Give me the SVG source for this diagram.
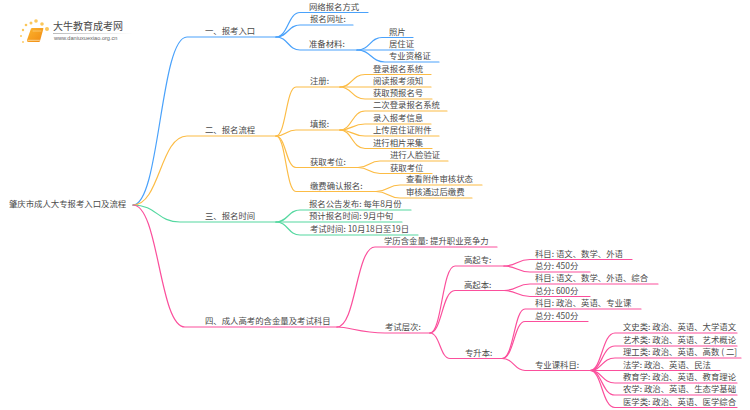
<svg xmlns="http://www.w3.org/2000/svg" width="750" height="410" viewBox="0 0 750 410">
<defs>
<linearGradient id="fade" x1="0" x2="1" y1="0" y2="0"><stop offset="0" stop-color="#bbb"/><stop offset="1" stop-color="#bbb" stop-opacity="0"/></linearGradient>
<linearGradient id="book" x1="0" x2="1" y1="0" y2="1"><stop offset="0" stop-color="#fdb52e"/><stop offset="1" stop-color="#f08a12"/></linearGradient>
</defs>
<style>
text{font-family:"Noto Sans CJK SC","Noto Sans",sans-serif;font-size:8.4px;fill:#4a4a4a;transform:translateY(-.7px)}
path{fill:none;stroke-width:1.2;stroke-linecap:round}
.b{stroke:#4aa2fb}.o{stroke:#fcbc45}.g{stroke:#55d8a0}.p{stroke:#fb4f9c}
</style>
<rect width="750" height="410" fill="#fff"/>
<g id="connectors">
<path class="b" d="M133 205C160 205 160 37 187 37H276"/>
<path class="o" d="M133 205C160 205 160 136 187 136H276"/>
<path class="g" d="M133 205C157 205 157 222 180 222H276"/>
<path class="p" d="M133 205C159 205 159 327 185 327H337"/>
<path class="b" d="M276 37C288 37 288 12.500 300 12.500H368"/>
<path class="b" d="M276 37C288 37 288 25 300 25H353"/>
<path class="b" d="M276 37C288 37 288 50 300 50H357"/>
<path class="b" d="M357 50C370 50 370 37.500 382 37.500H413"/>
<path class="b" d="M357 50H414"/>
<path class="b" d="M357 50C371 50 371 62 385 62H439"/>
<path class="o" d="M276 136C286 136 286 87 296 87H340"/>
<path class="o" d="M276 136C286 136 286 130 296 130H340"/>
<path class="o" d="M276 136C286 136 286 167.500 296 167.500H358"/>
<path class="o" d="M276 136C286 136 286 191.500 296 191.500H376"/>
<path class="o" d="M340 87C352 87 352 74.500 365 74.500H431"/>
<path class="o" d="M340 87H431"/>
<path class="o" d="M340 87C352 87 352 99 365 99H432"/>
<path class="o" d="M340 130C352 130 352 111 365 111H447"/>
<path class="o" d="M340 130C352 130 352 124 365 124H431"/>
<path class="o" d="M340 130C352 130 352 136 365 136H439"/>
<path class="o" d="M340 130C352 130 352 148.500 365 148.500H432"/>
<path class="o" d="M358 167.500C369 167.500 369 161 380 161H448"/>
<path class="o" d="M358 167.500C369 167.500 369 173.500 380 173.500H432"/>
<path class="o" d="M376 191.500C388 191.500 388 185 400 185H482"/>
<path class="o" d="M376 191.500C388 191.500 388 198 400 198H472"/>
<path class="g" d="M276 222C288 222 288 210 300 210H411"/>
<path class="g" d="M276 222H402"/>
<path class="g" d="M276 222C288 222 288 235 300 235H418"/>
<path class="p" d="M337 327C356 327 356 247 375 247H497"/>
<path class="p" d="M337 327C350 327 360 333 385 333H430"/>
<path class="p" d="M430 333C442 333 442 266 455 266H504"/>
<path class="p" d="M430 333C442 333 442 290.500 455 290.500H504"/>
<path class="p" d="M430 333C440 333 440 358.500 450 358.500H502"/>
<path class="p" d="M504 266C517 266 517 259.500 530 259.500H632"/>
<path class="p" d="M504 266C517 266 517 272 530 272H590"/>
<path class="p" d="M504 290.500C517 290.500 517 284 530 284H658"/>
<path class="p" d="M504 290.500C517 290.500 517 296.500 530 296.500H590"/>
<path class="p" d="M502 358.500C514 358.500 514 309 525 309H641"/>
<path class="p" d="M502 358.500C514 358.500 514 321.500 525 321.500H588"/>
<path class="p" d="M502 358.500C514 358.500 514 370.500 525 370.500H591"/>
<path class="p" d="M590 370.500C602 370.500 602 333 615 333H737"/>
<path class="p" d="M590 370.500C602 370.500 602 346 615 346H737"/>
<path class="p" d="M590 370.500C602 370.500 602 358 615 358H741"/>
<path class="p" d="M590 370.500H720"/>
<path class="p" d="M590 370.500C602 370.500 602 383 615 383H737"/>
<path class="p" d="M590 370.500C602 370.500 602 395 615 395H737"/>
<path class="p" d="M590 370.500C602 370.500 602 407.500 615 407.500H737"/>
</g>
<g id="logo">
<g fill="#fbc75a"><circle cx="36" cy="21" r="1.800"/><circle cx="31" cy="23" r="1.500"/><circle cx="26" cy="25" r="1.300"/><circle cx="23" cy="30" r="1.200"/><circle cx="21" cy="36" r="1"/><circle cx="23" cy="42" r=".9"/><circle cx="42" cy="24" r="1.800"/><circle cx="47" cy="29" r="2"/></g>
<path d="M31 28.500Q31.500 28 32 28H43Q43.500 28 43.300 29L40 41Q39.700 42 39 42H28.500Q26.500 42 27 40Z" style="fill:url(#book);stroke:none"/>
<path d="M28 40.300H39.500" style="stroke:#fbe3b4;stroke-width:.8"/>
<path d="M33 31H41" style="stroke:#fbd58a;stroke-width:.7"/>
<text x="53" y="31" style="font-size:10px">大牛教育成考网</text>
<rect x="53" y="33" width="80" height="1" fill="url(#fade)"/>
<text x="54" y="41" style="font-size:5.600px;fill:#666;font-family:'Liberation Sans',sans-serif">www.daniuxuexiao.org.cn</text>
</g>
<g id="n0"><text x="9" y="208">肇庆市成人大专报考入口及流程</text></g>
<g id="n1"><text x="205" y="35">一、报考入口</text></g>
<g id="n2"><text x="205" y="134">二、报名流程</text></g>
<g id="n3"><text x="205" y="220">三、报名时间</text></g>
<g id="n4"><text x="205" y="325">四、成人高考的含金量及考试科目</text></g>
<g id="n5"><text x="309" y="10.500">网络报名方式</text></g>
<g id="n6"><text x="310" y="23">报名网址:</text></g>
<g id="n7"><text x="309" y="48">准备材料:</text></g>
<g id="n8"><text x="389" y="35.500">照片</text></g>
<g id="n9"><text x="389" y="48">居住证</text></g>
<g id="n10"><text x="389" y="60">专业资格证</text></g>
<g id="n11"><text x="310" y="85">注册:</text></g>
<g id="n12"><text x="310" y="128">填报:</text></g>
<g id="n13"><text x="310" y="165.500">获取考位:</text></g>
<g id="n14"><text x="310" y="189.500">缴费确认报名:</text></g>
<g id="n15"><text x="373" y="72.500">登录报名系统</text></g>
<g id="n16"><text x="373" y="85">阅读报考须知</text></g>
<g id="n17"><text x="373" y="97">获取预报名号</text></g>
<g id="n18"><text x="373" y="109">二次登录报名系统</text></g>
<g id="n19"><text x="373" y="122">录入报考信息</text></g>
<g id="n20"><text x="373" y="134">上传居住证附件</text></g>
<g id="n21"><text x="373" y="146.500">进行相片采集</text></g>
<g id="n22"><text x="390" y="159">进行人脸验证</text></g>
<g id="n23"><text x="390" y="171.500">获取考位</text></g>
<g id="n24"><text x="406" y="183">查看附件审核状态</text></g>
<g id="n25"><text x="406" y="196">审核通过后缴费</text></g>
<g id="n26"><text x="309" y="208">报名公告发布: 每年8月份</text></g>
<g id="n27"><text x="309" y="220">预计报名时间: 9月中旬</text></g>
<g id="n28"><text x="310" y="233">考试时间: 10月18日至19日</text></g>
<g id="n29"><text x="384" y="245">学历含金量: 提升职业竞争力</text></g>
<g id="n30"><text x="385" y="331">考试层次:</text></g>
<g id="n31"><text x="464" y="264">高起专:</text></g>
<g id="n32"><text x="464" y="288.500">高起本:</text></g>
<g id="n33"><text x="465" y="356.500">专升本:</text></g>
<g id="n34"><text x="535" y="257.500">科目: 语文、数学、外语</text></g>
<g id="n35"><text x="535" y="270">总分: 450分</text></g>
<g id="n36"><text x="535" y="282">科目: 语文、数学、外语、综合</text></g>
<g id="n37"><text x="535" y="294.500">总分: 600分</text></g>
<g id="n38"><text x="535" y="307">科目: 政治、英语、专业课</text></g>
<g id="n39"><text x="535" y="319.500">总分: 450分</text></g>
<g id="n40"><text x="535" y="368.500">专业课科目:</text></g>
<g id="n41"><text x="623" y="331">文史类: 政治、英语、大学语文</text></g>
<g id="n42"><text x="623" y="344">艺术类: 政治、英语、艺术概论</text></g>
<g id="n43"><text x="623" y="356">理工类: 政治、英语、高数 ( 二]</text></g>
<g id="n44"><text x="623" y="368.500">法学: 政治、英语、民法</text></g>
<g id="n45"><text x="623" y="381">教育学: 政治、英语、教育理论</text></g>
<g id="n46"><text x="623" y="393">农学: 政治、英语、生态学基础</text></g>
<g id="n47"><text x="623" y="405.500">医学类: 政治、英语、医学综合</text></g>
</svg>
